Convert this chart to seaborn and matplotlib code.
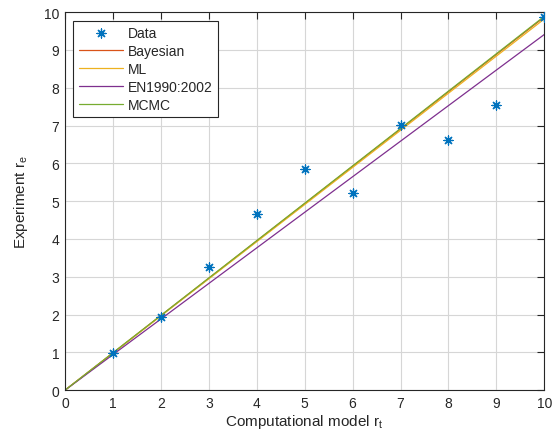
import matplotlib
matplotlib.use("Agg")
import matplotlib.pyplot as plt
import seaborn as sns
import pandas as pd

# Data
rt = [1, 2, 3, 4, 5, 6, 7, 8, 9, 10]
re = [0.99, 1.94, 3.27, 4.66, 5.84, 5.22, 7.01, 6.61, 7.54, 9.88]

line_x = [0, 10]
bayes_y = [0, 9.87]
ml_y = [0, 9.82]
en_y = [0, 9.41]
mcmc_y = [0, 9.89]

series = ["Bayesian", "ML", "EN1990:2002", "MCMC"]
colors = ["#D95319", "#EDB120", "#7E2F8E", "#77AC30"]

xticks = list(range(0, 11))
yticks = list(range(0, 11))

sns.set_theme(style="white")
plt.rcParams['font.family'] = ['Liberation Sans', 'DejaVu Sans']

fig = plt.figure(figsize=(5.56, 4.39), dpi=100)
ax = fig.add_axes([0.117, 0.109, 0.862, 0.861])

df_pts = pd.DataFrame({"rt": rt, "re": re})
sns.scatterplot(data=df_pts, x="rt", y="re", ax=ax, marker=(8, 2, 0), s=42,
                color="#0072BD", linewidth=0.9, edgecolor="#0072BD", label="Data", zorder=5)

line_vals = [bayes_y, ml_y, en_y, mcmc_y]
for name, yv, c in zip(series, line_vals, colors):
    sns.lineplot(x=line_x, y=yv, ax=ax, color=c, linewidth=0.9, label=name)

ax.set_xlim(0, 10)
ax.set_ylim(0, 10)
ax.set_xticks(xticks)
ax.set_yticks(yticks)
ax.grid(True, color="#D6D6D6", linewidth=0.8)
ax.set_axisbelow(True)
for sp in ax.spines.values():
    sp.set_visible(True)
    sp.set_color("#262626")
    sp.set_linewidth(0.8)
ax.tick_params(direction="in", length=5, width=0.8, top=True, right=True,
               labelsize=10, colors="#262626", pad=4)
ax.set_xlabel("Computational model r$_{\\mathregular{t}}$", fontsize=11, color="#262626", labelpad=2)
ax.set_ylabel("Experiment r$_{\\mathregular{e}}$", fontsize=11, color="#262626", labelpad=10)

leg = ax.legend(loc="upper left", fontsize=10, frameon=True, fancybox=False,
                edgecolor="#262626", framealpha=1, handlelength=3.2, handletextpad=0.3,
                borderaxespad=0.6, labelspacing=0.28, borderpad=0.4)
leg.get_frame().set_linewidth(0.8)

fig.savefig("out.png", dpi=100)
